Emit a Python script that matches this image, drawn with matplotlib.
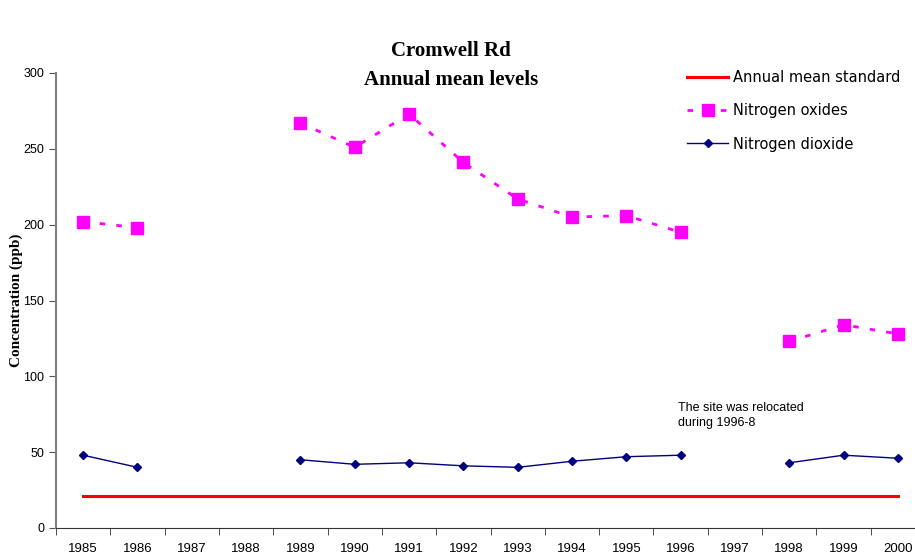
import numpy as np
import matplotlib.pyplot as plt

years = list(range(1985, 2001))
nox = [202, 198, np.nan, np.nan, 267, 251, 273, 241, 217, 205, 206, 195,
       np.nan, 123, 134, 128]
no2 = [48, 40, np.nan, np.nan, 45, 42, 43, 41, 40, 44, 47, 48,
       np.nan, 43, 48, 46]
standard = [21] * len(years)

fig = plt.figure(figsize=(9.15, 5.56), dpi=100)
ax = fig.add_axes([56 / 915, 28 / 556, 869 / 915, 455 / 556])

x = np.arange(len(years))
ax.plot(x, standard, color='#ff0000', lw=2.2, label='Annual mean standard')
ax.plot(x, nox, color='#ff00ff', lw=2, ls=(0, (2, 4)), marker='s', ms=8,
        label='Nitrogen oxides')
ax.plot(x, no2, color='#000080', lw=1, marker='D', ms=4.5,
        label='Nitrogen dioxide')

ax.set_xlim(-0.5, len(years) - 0.5)
ax.set_ylim(0, 300)
ax.set_yticks(range(0, 301, 50))
ax.set_xticks(x)
ax.set_xticklabels([str(y) for y in years], fontsize=9.5, family='Liberation Sans')
ax.set_xticks(np.arange(-0.5, len(years), 1), minor=True)
ax.tick_params(axis='x', which='major', length=0, pad=10.5)
ax.tick_params(axis='x', which='minor', length=5, direction='out', color='#333333')
ax.tick_params(axis='y', length=5, direction='out', labelsize=9, color='#555555')
for lab in ax.get_yticklabels():
    lab.set_family('Liberation Sans')

for side in ['top', 'right']:
    ax.spines[side].set_visible(False)
ax.spines['left'].set_color('#808080')
ax.spines['left'].set_linewidth(1.5)
ax.spines['bottom'].set_color('#333333')

ax.set_ylabel('Concentration (ppb)', family='Liberation Serif', fontweight='bold',
              fontsize=11, labelpad=0)

fig.text(451 / 915, 1 - 51 / 556, 'Cromwell Rd', ha='center', va='center',
         family='Liberation Serif', fontweight='bold', fontsize=15)
fig.text(451 / 915, 1 - 80 / 556, 'Annual mean levels', ha='center', va='center',
         family='Liberation Serif', fontweight='bold', fontsize=15)

ax.text(10.95, 74, 'The site was relocated\nduring 1996-8', ha='left', va='center',
        fontsize=9, family='Liberation Sans', linespacing=1.3)

ax.legend(loc='upper left', bbox_to_anchor=(674 / 915, 1 - 57 / 556),
          bbox_transform=fig.transFigure, frameon=False, fontsize=10.5,
          handlelength=2.8, labelspacing=1.25, handletextpad=0.35)

fig.savefig('out.png', dpi=100)
